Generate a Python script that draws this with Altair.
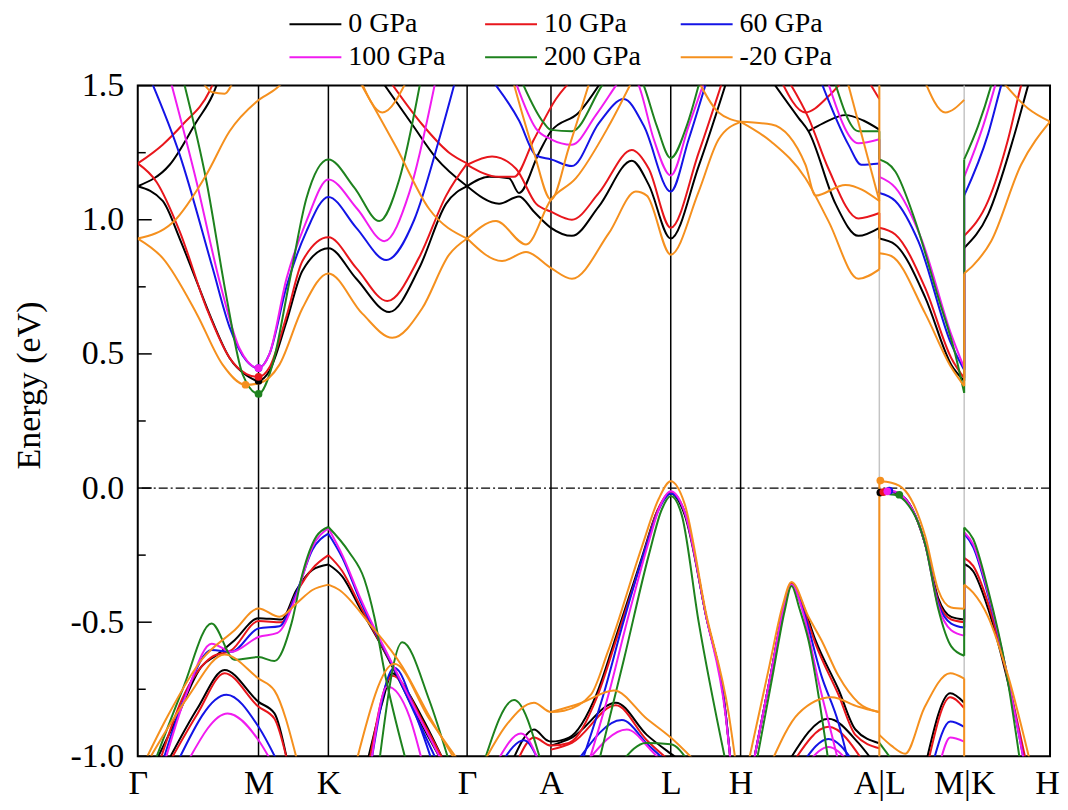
import altair as alt
import pandas as pd

# ---------------- data ----------------
PRESSURES = ["0 GPa", "10 GPa", "60 GPa", "100 GPa", "200 GPa", "-20 GPa"]
COLORS = ["#000000", "#e8161c", "#1414e6", "#f01cf0", "#1e821e", "#f5901e"]

KPOINTS = [0.0, 1.21, 1.91, 3.30, 4.14, 5.34, 6.04, 7.43, 8.28, 9.14]
KLABELS = ["Γ", "M", "K", "Γ", "A", "L", "H", "A|L", "M|K", "H"]
KLINE_KIND = ["edge", "black", "black", "black", "black", "black", "black", "gray", "gray", "edge"]

Y_MAJOR = [-1.0, -0.5, 0.0, 0.5, 1.0, 1.5]
Y_MINOR = [-0.75, -0.25, 0.25, 0.75, 1.25]

# each band: list of (k, E in eV)
BANDS_0 = [
    [(0, 1.125), (.25, 1.07), (.42, .93), (.59, .77), (.75, .62), (.92, .485), (1.09, .42), (1.21, .40), (1.32, .437), (1.49, .62), (1.65, .81), (1.91, .894), (2.19, .78), (2.52, .656), (2.82, .82), (3.09, 1.06), (3.30, 1.125)],
    [(0, 1.125), (.32, 1.205), (.59, 1.366), (.75, 1.465), (.82, 1.53)],
    [(2.42, 1.53), (2.75, 1.355), (2.99, 1.23), (3.30, 1.125)],
    [(3.30, 1.125), (3.62, 1.06), (3.82, 1.087), (3.97, 1.03), (4.14, .97), (4.35, .94), (4.62, 1.05), (4.95, 1.22), (5.12, 1.13), (5.34, .93), (5.62, 1.2), (5.92, 1.54)],
    [(3.30, 1.125), (3.52, 1.16), (3.72, 1.155), (3.82, 1.10), (4.02, 1.25), (4.14, 1.33), (4.42, 1.40), (4.67, 1.53)],
    [(6.33, 1.53), (6.62, 1.38), (6.72, 1.33), (6.99, 1.06), (7.22, .94), (7.43, .97)],
    [(6.72, 1.33), (6.87, 1.36), (7.09, 1.39), (7.27, 1.37), (7.43, 1.336)],
    [(7.43, .93), (7.59, .907), (7.89, .71), (8.15, .46), (8.28, .40)],
    [(8.28, .895), (8.52, 1.02), (8.77, 1.3), (8.92, 1.5), (8.95, 1.54)],
    [(.18, -1.02), (.37, -.875), (.64, -.665), (.80, -.62), (.97, -.567), (1.21, -.485), (1.44, -.49), (1.59, -.38), (1.75, -.305), (1.91, -.285)],
    [(.30, -1.02), (.60, -.82), (.87, -.678), (1.21, -.797), (1.37, -.84), (1.50, -1.02)],
    [(1.91, -.285), (2.05, -.33), (2.23, -.45), (2.40, -.56), (2.55, -.665), (2.80, -.85), (3.05, -1.02)],
    [(2.30, -1.02), (2.45, -.80), (2.55, -.69), (2.67, -.74), (2.87, -.87), (3.07, -1.02)],
    [(3.75, -1.02), (3.97, -.90), (4.10, -.94), (4.14, -.945), (4.32, -.93), (4.60, -.765), (4.79, -.555), (5.05, -.26), (5.20, -.09), (5.34, -.02), (5.48, -.10), (5.69, -.47), (5.89, -.84), (5.94, -1.02)],
    [(4.14, -.96), (4.35, -.93), (4.79, -.80), (5.10, -.92), (5.34, -.99), (5.45, -1.02)],
    [(6.17, -1.02), (6.35, -.68), (6.47, -.45), (6.55, -.355), (6.67, -.44), (6.79, -.567), (7.02, -.75), (7.19, -.90), (7.42, -.95)],
    [(6.52, -1.02), (6.92, -.86), (7.22, -.95), (7.37, -1.02)],
    [(7.43, -.012), (7.55, -.015), (7.69, -.04), (7.89, -.21), (8.02, -.41), (8.15, -.48), (8.28, -.49)],
    [(7.90, -1.02), (8.14, -.765), (8.28, -.80)],
    [(8.28, -.283), (8.37, -.31), (8.52, -.45), (8.69, -.68), (8.89, -1.02)],
    [(7.43, .97), (7.43, .93)],
    [(8.28, .40), (8.28, .895)],
    [(8.28, -.49), (8.28, -.283)],
]

BANDS_10 = [
    [(0, 1.21), (.19, 1.14), (.42, .957), (.69, .67), (.92, .485), (1.09, .425), (1.21, .414), (1.32, .45), (1.49, .64), (1.65, .846), (1.91, .935), (2.19, .82), (2.50, .697), (2.82, .86), (3.09, 1.09), (3.30, 1.21)],
    [(0, 1.21), (.25, 1.28), (.45, 1.355), (.72, 1.48), (.78, 1.53)],
    [(2.52, 1.52), (2.85, 1.355), (3.12, 1.25), (3.30, 1.21)],
    [(3.30, 1.205), (3.55, 1.236), (3.79, 1.19), (3.99, 1.06), (4.14, 1.03), (4.35, 1.0), (4.62, 1.1), (4.95, 1.26), (5.12, 1.19), (5.34, .97), (5.62, 1.25), (5.87, 1.53)],
    [(3.30, 1.205), (3.62, 1.16), (3.77, 1.16), (3.97, 1.30), (4.19, 1.45), (4.37, 1.53)],
    [(6.50, 1.53), (6.72, 1.38), (6.92, 1.19), (7.22, 1.005), (7.43, 1.025)],
    [(6.43, 1.53), (6.69, 1.40), (6.92, 1.46), (7.09, 1.53)],
    [(7.30, 1.53), (7.43, 1.45)],
    [(7.43, .97), (7.59, .945), (7.89, .745), (8.15, .485), (8.28, .41)],
    [(8.28, .94), (8.52, 1.07), (8.72, 1.3), (8.85, 1.5), (8.88, 1.54)],
    [(.22, -1.02), (.44, -.79), (.74, -.63), (.94, -.604), (1.21, -.496), (1.44, -.50), (1.59, -.39), (1.75, -.30), (1.91, -.25)],
    [(.32, -1.02), (.60, -.84), (.87, -.69), (1.21, -.815), (1.37, -.86), (1.50, -1.02)],
    [(1.91, -.25), (2.05, -.31), (2.23, -.44), (2.55, -.66), (2.80, -.84), (3.07, -1.02)],
    [(2.32, -1.02), (2.55, -.70), (2.87, -.88), (3.07, -1.02)],
    [(3.80, -1.02), (3.97, -.93), (4.14, -.96), (4.32, -.95), (4.60, -.78), (4.79, -.57), (5.05, -.27), (5.20, -.09), (5.34, -.015), (5.48, -.09), (5.69, -.47), (5.89, -.84), (5.94, -1.02)],
    [(4.14, -.975), (4.35, -.95), (4.79, -.81), (5.10, -.94), (5.34, -1.02)],
    [(6.17, -1.02), (6.35, -.68), (6.47, -.45), (6.55, -.355), (6.67, -.45), (6.79, -.58), (7.02, -.77), (7.19, -.92), (7.43, -.97)],
    [(6.57, -1.02), (6.92, -.89), (7.27, -1.02)],
    [(7.43, -.01), (7.55, -.013), (7.69, -.04), (7.89, -.21), (8.02, -.42), (8.15, -.49), (8.28, -.50)],
    [(7.92, -1.02), (8.14, -.78), (8.28, -.82)],
    [(8.28, -.26), (8.37, -.29), (8.52, -.43), (8.69, -.67), (8.90, -1.02)],
    [(7.43, 1.025), (7.43, .97)],
    [(8.28, .41), (8.28, .94)],
    [(8.28, -.50), (8.28, -.26)],
]

BANDS_60 = [
    [(.12, 1.53), (.42, 1.243), (.75, .82), (.92, .60), (1.09, .474), (1.21, .447), (1.32, .50), (1.49, .75), (1.69, .957), (1.91, 1.085), (2.19, .97), (2.49, .85), (2.77, 1.0), (3.02, 1.3), (3.19, 1.53)],
    [(3.53, 1.53), (3.82, 1.37), (3.99, 1.24), (4.14, 1.225), (4.35, 1.20), (4.62, 1.36), (4.87, 1.45), (5.07, 1.35), (5.34, 1.105), (5.52, 1.3), (5.71, 1.53)],
    [(6.83, 1.53), (7.12, 1.28), (7.25, 1.205), (7.43, 1.21)],
    [(7.43, 1.10), (7.59, 1.07), (7.82, .92), (8.15, .537), (8.28, .44)],
    [(8.28, 1.09), (8.52, 1.32), (8.65, 1.5), (8.68, 1.54)],
    [(.25, -1.02), (.47, -.78), (.74, -.604), (.94, -.61), (1.21, -.523), (1.42, -.515), (1.59, -.39), (1.75, -.23), (1.91, -.17)],
    [(.40, -1.02), (.89, -.77), (1.21, -.89), (1.40, -1.02)],
    [(1.91, -.17), (2.05, -.26), (2.23, -.42), (2.55, -.66), (2.80, -.86), (3.00, -1.02)],
    [(2.34, -1.02), (2.57, -.67), (2.82, -.88), (2.95, -1.02)],
    [(3.65, -1.02), (3.87, -.94), (4.02, -1.02)],
    [(4.45, -1.02), (4.67, -.765), (4.85, -.52), (5.09, -.22), (5.22, -.08), (5.34, -.02), (5.48, -.09), (5.69, -.47), (5.89, -.84), (5.94, -1.02)],
    [(4.40, -1.02), (4.85, -.865), (5.12, -.96), (5.30, -1.02)],
    [(6.17, -1.02), (6.35, -.68), (6.47, -.45), (6.55, -.36), (6.67, -.46), (6.85, -.70), (7.02, -.875), (7.12, -1.02)],
    [(6.67, -1.02), (6.92, -.935), (7.17, -1.02)],
    [(7.43, -.01), (7.55, -.012), (7.69, -.04), (7.89, -.21), (8.02, -.43), (8.15, -.505), (8.28, -.52)],
    [(7.97, -1.02), (8.14, -.87), (8.28, -.89)],
    [(8.28, -.17), (8.37, -.22), (8.52, -.40), (8.69, -.66), (8.88, -1.02)],
    [(7.43, 1.21), (7.43, 1.10)],
    [(8.28, .44), (8.28, 1.09)],
    [(8.28, -.52), (8.28, -.17)],
]

BANDS_100 = [
    [(.32, 1.53), (.59, 1.14), (.82, .77), (1.02, .52), (1.21, .447), (1.32, .50), (1.49, .78), (1.69, .995), (1.91, 1.15), (2.20, 1.04), (2.47, .92), (2.72, 1.1), (2.99, 1.53)],
    [(3.77, 1.53), (3.99, 1.34), (4.14, 1.30), (4.35, 1.28), (4.59, 1.39), (4.79, 1.5), (4.90, 1.56), (5.02, 1.5), (5.17, 1.3), (5.34, 1.165), (5.52, 1.35), (5.69, 1.53)],
    [(6.90, 1.53), (7.22, 1.285), (7.43, 1.30)],
    [(7.43, 1.16), (7.59, 1.12), (7.85, .93), (8.15, .573), (8.28, .448)],
    [(8.28, 1.16), (8.47, 1.35), (8.59, 1.5), (8.62, 1.54)],
    [(.27, -1.02), (.50, -.755), (.74, -.58), (.94, -.61), (1.21, -.555), (1.40, -.54), (1.59, -.40), (1.75, -.22), (1.91, -.15)],
    [(.50, -1.02), (.90, -.84), (1.21, -.94), (1.34, -1.02)],
    [(1.91, -.15), (2.05, -.25), (2.23, -.41), (2.55, -.655), (2.80, -.84), (3.05, -1.02)],
    [(2.34, -1.02), (2.50, -.74), (2.72, -.85), (2.85, -1.02)],
    [(3.60, -1.02), (3.84, -.915), (4.02, -1.02)],
    [(4.52, -1.02), (4.72, -.765), (4.90, -.50), (5.12, -.20), (5.23, -.07), (5.34, -.012), (5.48, -.09), (5.69, -.47), (5.89, -.85), (5.94, -1.02)],
    [(4.50, -1.02), (4.90, -.90), (5.15, -.98), (5.25, -1.02)],
    [(6.17, -1.02), (6.35, -.68), (6.47, -.45), (6.55, -.36), (6.67, -.47), (6.82, -.72), (6.95, -.915), (7.02, -1.02)],
    [(6.72, -1.02), (6.92, -.965), (7.12, -1.02)],
    [(7.43, -.008), (7.55, -.01), (7.69, -.04), (7.89, -.21), (8.02, -.44), (8.15, -.53), (8.28, -.55)],
    [(8.04, -1.02), (8.14, -.93), (8.28, -.945)],
    [(8.28, -.165), (8.37, -.21), (8.52, -.39), (8.69, -.66), (8.88, -1.02)],
    [(7.43, 1.30), (7.43, 1.16)],
    [(8.28, .448), (8.28, 1.16)],
    [(8.28, -.55), (8.28, -.165)],
]

BANDS_200 = [
    [(.45, 1.53), (.69, 1.14), (.89, .71), (1.05, .425), (1.21, .351), (1.35, .46), (1.52, .77), (1.69, 1.08), (1.91, 1.225), (2.17, 1.12), (2.42, .995), (2.62, 1.15), (2.84, 1.53)],
    [(3.83, 1.53), (4.07, 1.36), (4.14, 1.335), (4.35, 1.33), (4.65, 1.5), (4.87, 1.62), (5.07, 1.5), (5.20, 1.35), (5.34, 1.23), (5.50, 1.35), (5.64, 1.53)],
    [(6.97, 1.53), (7.22, 1.33), (7.43, 1.33)],
    [(7.43, 1.225), (7.59, 1.18), (7.79, .995), (8.02, .71), (8.19, .50), (8.28, .355)],
    [(8.28, 1.225), (8.42, 1.35), (8.55, 1.5), (8.58, 1.54)],
    [(.17, -1.02), (.45, -.75), (.74, -.505), (.97, -.64), (1.21, -.63), (1.37, -.645), (1.54, -.505), (1.65, -.32), (1.79, -.18), (1.91, -.145)],
    [(1.91, -.145), (2.12, -.24), (2.27, -.34), (2.37, -.48), (2.47, -.68), (2.69, -1.02)],
    [(2.42, -1.02), (2.65, -.575), (2.92, -.79), (3.12, -1.02)],
    [(3.47, -1.02), (3.77, -.79), (4.04, -1.02)],
    [(4.62, -1.02), (4.87, -.64), (5.12, -.25), (5.25, -.08), (5.34, -.03), (5.45, -.10), (5.62, -.50), (5.89, -1.02)],
    [(4.85, -1.02), (5.09, -.95), (5.34, -.955), (5.52, -1.02)],
    [(6.20, -1.02), (6.37, -.68), (6.48, -.46), (6.55, -.365), (6.63, -.45), (6.72, -.567), (6.92, -1.02)],
    [(7.43, -.02), (7.58, -.025), (7.69, -.05), (7.89, -.21), (8.02, -.45), (8.15, -.59), (8.28, -.625)],
    [(7.43, -.95), (7.57, -1.02)],
    [(8.28, -.147), (8.37, -.19), (8.52, -.38), (8.69, -.66), (8.84, -1.02)],
    [(7.43, 1.33), (7.43, 1.225)],
    [(8.28, .355), (8.28, 1.225)],
    [(8.28, -.625), (8.28, -.147)],
]

BANDS_M20 = [
    [(0, .93), (.25, .857), (.59, .65), (.85, .46), (1.08, .385), (1.21, .39), (1.42, .46), (1.65, .67), (1.91, .80), (2.25, .65), (2.55, .56), (2.85, .67), (3.12, .87), (3.30, .93)],
    [(0, .93), (.35, .99), (.69, 1.17), (.92, 1.33), (1.19, 1.44), (1.39, 1.49), (1.50, 1.53)],
    [(.62, 1.53), (.75, 1.475), (.87, 1.47), (.97, 1.53)],
    [(2.20, 1.53), (2.59, 1.27), (2.92, 1.04), (3.30, .93)],
    [(2.22, 1.53), (2.45, 1.40), (2.71, 1.53)],
    [(3.30, .93), (3.65, .846), (3.89, .88), (4.14, .82), (4.35, .78), (4.72, .95), (4.99, 1.105), (5.10, 1.09), (5.34, .87), (5.62, 1.105), (5.82, 1.30), (6.04, 1.365)],
    [(3.30, .93), (3.59, .995), (3.89, .908), (4.14, 1.075), (4.39, 1.155), (4.72, 1.35), (4.97, 1.53)],
    [(3.75, 1.53), (3.97, 1.25), (4.14, 1.075), (4.32, 1.27), (4.54, 1.53)],
    [(5.60, 1.53), (5.82, 1.40), (6.04, 1.365)],
    [(6.04, 1.365), (6.35, 1.29), (6.69, 1.155), (6.92, .995), (7.22, .78), (7.43, .815)],
    [(6.04, 1.365), (6.35, 1.355), (6.69, 1.205), (6.79, 1.09), (7.09, 1.13), (7.43, 1.07)],
    [(7.10, 1.53), (7.43, 1.07)],
    [(7.43, .875), (7.55, .865), (7.89, .65), (8.15, .45), (8.28, .38)],
    [(7.87, 1.53), (8.09, 1.40), (8.28, 1.447)],
    [(8.28, .80), (8.37, .83), (8.55, .92), (8.85, 1.205), (9.14, 1.366)],
    [(8.63, 1.53), (8.92, 1.415), (9.14, 1.366)],
    [(.07, -1.02), (.30, -.85), (.64, -.64), (.97, -.53), (1.21, -.449), (1.42, -.48), (1.59, -.43), (1.75, -.38), (1.91, -.36)],
    [(.10, -1.02), (.50, -.78), (.87, -.62), (1.21, -.71), (1.37, -.755), (1.60, -1.02)],
    [(1.91, -.36), (2.02, -.38), (2.32, -.505), (2.65, -.665), (2.92, -.85), (3.19, -1.02)],
    [(2.19, -1.02), (2.57, -.655), (2.92, -.86), (3.22, -1.02)],
    [(3.47, -1.02), (3.70, -.88), (3.97, -.80), (4.14, -.835), (4.27, -.83), (4.54, -.77), (4.71, -.61), (5.05, -.22), (5.22, -.04), (5.34, .025), (5.48, -.06), (5.69, -.46), (5.92, -.84), (5.99, -1.02)],
    [(4.14, -.835), (4.45, -.80), (4.77, -.755), (5.10, -.86), (5.34, -.93), (5.59, -1.02)],
    [(6.12, -1.02), (6.33, -.66), (6.46, -.44), (6.55, -.35), (6.72, -.48), (6.85, -.567), (7.02, -.70), (7.22, -.80), (7.42, -.835)],
    [(6.35, -1.02), (6.62, -.84), (6.95, -.78), (7.22, -.815), (7.43, -.835)],
    [(7.43, .025), (7.55, .02), (7.69, -.01), (7.89, -.18), (8.02, -.38), (8.15, -.445), (8.28, -.45)],
    [(7.43, -.92), (7.55, -.96), (7.69, -.99), (7.88, -.82), (8.14, -.69), (8.28, -.71)],
    [(8.28, -.36), (8.37, -.39), (8.52, -.48), (8.72, -.70), (8.94, -1.02)],
    [(7.43, 1.53), (7.43, .815)],
    [(7.43, .025), (7.43, -1.03)],
    [(8.28, .38), (8.28, .80)],
    [(8.28, -.71), (8.28, -1.03)],
    [(8.28, -.45), (8.28, -.36)],
]

ALL_BANDS = [BANDS_0, BANDS_10, BANDS_60, BANDS_100, BANDS_200, BANDS_M20]

# band-edge markers (CBM near M, VBM near L)
CBM_K = [1.21, 1.21, 1.21, 1.21, 1.21, 1.08]
CBM_E = [0.40, 0.414, 0.447, 0.447, 0.351, 0.385]
VBM_K = [7.44, 7.47, 7.53, 7.51, 7.63, 7.44]
VBM_E = [-0.017, -0.015, -0.01, -0.012, -0.025, 0.028]

# ---------------- tables ----------------
rows = []
for p, bands in zip(PRESSURES, ALL_BANDS):
    for bi, band in enumerate(bands):
        for i, (k, e) in enumerate(band):
            rows.append({"P": p, "band": f"{p}_{bi}", "k": k, "E": e, "i": i})
df = pd.DataFrame(rows)

dots = []
for p, c, k1, e1, k2, e2 in zip(PRESSURES, COLORS, CBM_K, CBM_E, VBM_K, VBM_E):
    dots.append({"P": p, "col": c, "k": k1, "E": e1})
    dots.append({"P": p, "col": c, "k": k2, "E": e2})
df_dots = pd.DataFrame(dots)

df_k = pd.DataFrame({"k": KPOINTS, "kind": KLINE_KIND})
df_zero = pd.DataFrame({"E": [0.0]})
df_major = pd.DataFrame({"E": Y_MAJOR})
df_minor = pd.DataFrame({"E": Y_MINOR})

# ---------------- scales / axes ----------------
FONT = "Liberation Serif"

# label expression for the high-symmetry points
expr = f"'{KLABELS[-1]}'"
for i in range(len(KPOINTS) - 2, -1, -1):
    mid = (KPOINTS[i] + KPOINTS[i + 1]) / 2
    expr = f"datum.value < {mid:.3f} ? '{KLABELS[i]}' : ({expr})"

x_scale = alt.Scale(domain=[KPOINTS[0], KPOINTS[-1]], nice=False, zero=False)
y_scale = alt.Scale(domain=[-1.0, 1.5], nice=False, zero=False)

x_axis = alt.Axis(values=KPOINTS, labelExpr=expr, ticks=False, domain=False, grid=False,
                  labelFont=FONT, labelFontSize=34, labelColor="black", labelPadding=10,
                  labelOffset={"condition": {"test": f"datum.value > {KPOINTS[-1] - 0.1}", "value": -3},
                               "value": 0},
                  labelFlush=False, labelOverlap=False, labelBound=False, title=None)
y_axis = alt.Axis(values=Y_MAJOR, labelExpr="replace(format(datum.value, '.1f'), '\u2212', '-')",
                  ticks=False, domain=False, grid=False,
                  labelFont=FONT, labelFontSize=34, labelColor="black", labelPadding=14,
                  labelFlush=False, labelOverlap=False,
                  title="Energy (eV)", titleFont=FONT, titleFontSize=34, titleFontWeight="normal",
                  titleColor="black", titleAngle=270, titleX=-108, titleY=300,
                  titleAlign="center", titleBaseline="middle")

X = alt.X("k:Q", scale=x_scale, axis=x_axis)
Y = alt.Y("E:Q", scale=y_scale, axis=y_axis)

legend = alt.Legend(title=None, orient="none", legendX=151, legendY=-78, direction="horizontal",
                    columns=3, symbolType="stroke", symbolSize=2704, symbolStrokeWidth=2,
                    clipHeight=33, rowPadding=0, columnPadding=38, labelOffset=6, padding=0,
                    labelFont=FONT, labelFontSize=28, labelColor="black", labelLimit=0)
color = alt.Color("P:N", scale=alt.Scale(domain=PRESSURES, range=COLORS), legend=legend, sort=None)

# ---------------- layers ----------------
klines_black = alt.Chart(df_k).transform_filter(alt.datum.kind == "black").mark_rule(
    color="black", strokeWidth=1.5).encode(x=X)
klines_gray = alt.Chart(df_k).transform_filter(alt.datum.kind == "gray").mark_rule(
    color="#c4c4c4", strokeWidth=1.5).encode(x=X)
zero_line = alt.Chart(df_zero).mark_rule(color="black", strokeWidth=1.2,
                                         strokeDash=[9, 3, 2, 3]).encode(y=Y)
ticks_major = alt.Chart(df_major).mark_rule(color="black", strokeWidth=1.5).encode(
    y=Y, x=alt.value(0), x2=alt.value(14))
ticks_minor = alt.Chart(df_minor).mark_rule(color="black", strokeWidth=1.5).encode(
    y=Y, x=alt.value(0), x2=alt.value(8))

band_layers = []
for p in PRESSURES:
    band_layers.append(
        alt.Chart(df[df["P"] == p]).mark_line(interpolate="monotone", strokeWidth=2, clip=True)
        .encode(x=X, y=Y, color=color, detail="band:N", order="i:Q")
    )

dot_layer = alt.Chart(df_dots).mark_circle(size=60, opacity=1, clip=True).encode(
    x=X, y=Y, color=alt.Color("col:N", scale=None))

chart = alt.layer(
    klines_black, klines_gray, zero_line, *band_layers, dot_layer, ticks_major, ticks_minor
).properties(
    width=914, height=672,
    autosize=alt.AutoSizeParams(type="none"),
    padding={"left": 130, "top": 77, "right": 10, "bottom": 52},
    background="white",
).configure(font=FONT).configure_view(stroke="black", strokeWidth=2)

chart.save("out.html", embed_options={"renderer": "svg", "actions": False})
